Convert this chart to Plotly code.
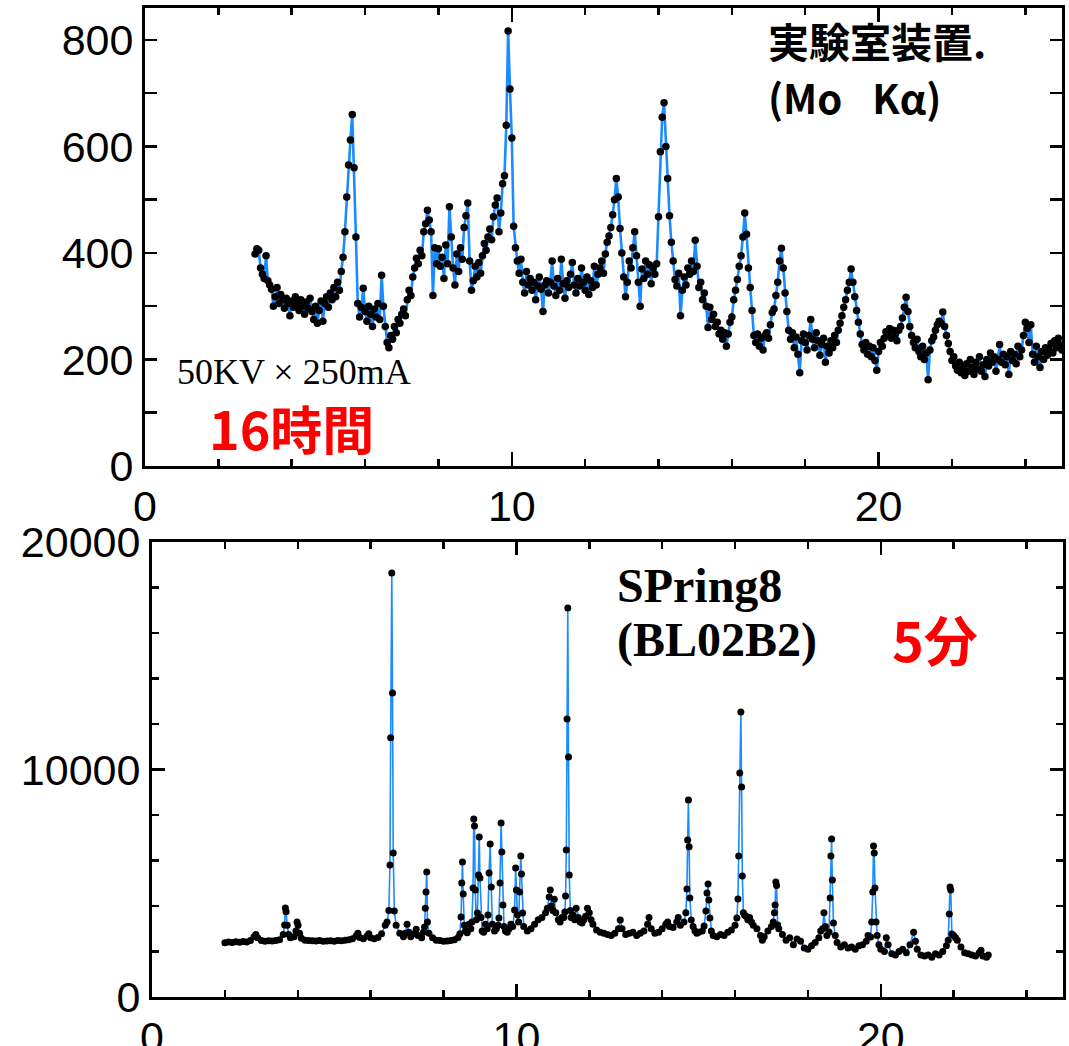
import plotly.graph_objects as go

# ---------------- Top panel (laboratory instrument, Mo Ka) ----------------
TOP_X_START = 3.0
TOP_X_STEP = 0.05
top_rows = [
    [398, 408, 405, 372, 360, 352, 395, 348, 340, 332, 300, 318, 335, 305, 322, 312, 296, 315, 305, 282],  # 3.00-3.95
    [310, 298, 318, 305, 292, 312, 300, 285, 308, 296, 315, 290, 275, 300, 268, 292, 310, 272, 305, 318],  # 4
    [298, 325, 312, 335, 318, 345, 330, 365, 392, 440, 505, 565, 612, 660, 560, 430, 305, 280, 298, 334],  # 5
    [290, 272, 300, 285, 262, 295, 280, 305, 275, 358, 300, 262, 232, 222, 245, 238, 262, 250, 275, 268],  # 6
    [285, 295, 282, 312, 330, 320, 355, 372, 390, 380, 405, 395, 440, 455, 480, 462, 440, 320, 410, 380],  # 7
    [408, 375, 392, 352, 415, 380, 487, 430, 372, 340, 398, 365, 410, 388, 448, 470, 494, 385, 330, 348],  # 8
    [375, 355, 382, 362, 395, 418, 405, 430, 445, 425, 468, 490, 503, 440, 475, 530, 545, 640, 817, 708],  # 9
    [616, 450, 410, 385, 362, 388, 345, 325, 365, 340, 352, 330, 345, 312, 338, 355, 332, 290, 340, 348],  # 10
    [325, 345, 385, 338, 320, 352, 330, 388, 342, 315, 348, 335, 360, 382, 340, 325, 352, 338, 372, 345],  # 11
    [330, 355, 322, 348, 335, 375, 340, 360, 372, 385, 362, 398, 420, 432, 448, 472, 500, 540, 505, 446],  # 12
    [400, 355, 318, 345, 385, 372, 410, 440, 395, 345, 300, 370, 352, 385, 360, 378, 342, 372, 360, 380],  # 13
    [468, 590, 655, 682, 600, 540, 470, 420, 385, 350, 338, 362, 282, 330, 355, 340, 372, 360, 385, 365],  # 14
    [424, 375, 335, 345, 312, 325, 300, 260, 298, 275, 285, 262, 270, 248, 255, 238, 250, 225, 248, 270],  # 15
    [280, 312, 330, 350, 375, 395, 430, 475, 435, 372, 335, 292, 245, 232, 248, 225, 240, 218, 245, 250],  # 16
    [240, 265, 288, 295, 320, 345, 385, 409, 372, 325, 290, 255, 238, 250, 222, 242, 210, 175, 235, 248],  # 17
    [232, 218, 245, 275, 238, 222, 250, 235, 208, 228, 240, 195, 225, 212, 235, 222, 245, 232, 255, 268],  # 18
    [282, 298, 312, 330, 345, 370, 345, 318, 292, 270, 248, 228, 218, 232, 210, 225, 205, 222, 198, 180],  # 19
    [215, 232, 225, 240, 252, 245, 258, 240, 255, 248, 235, 255, 262, 278, 298, 317, 290, 262, 245, 232],  # 20
    [222, 238, 215, 205, 225, 200, 212, 162, 218, 235, 242, 255, 265, 272, 268, 289, 262, 245, 230, 215],  # 21
    [198, 205, 188, 180, 195, 175, 185, 170, 192, 178, 200, 185, 172, 195, 182, 205, 178, 190, 168, 200],  # 22
    [188, 212, 195, 205, 178, 200, 228, 195, 210, 190, 205, 172, 215, 198, 210, 192, 225, 205, 218, 245],  # 23
    [270, 258, 232, 265, 210, 195, 225, 205, 185, 215, 200, 222, 208, 218, 230, 212, 235, 222, 240, 228, 218],  # 24-25
]
top_y = [v for row in top_rows for v in row]
top_x = [round(TOP_X_START + i * TOP_X_STEP, 3) for i in range(len(top_y))]

# ---------------- Bottom panel (SPring8 BL02B2) ----------------
bot_x = [
    2.0, 2.1, 2.2, 2.3, 2.4, 2.5, 2.6, 2.7, 2.8, 2.85, 2.9, 3.0, 3.1, 3.2, 3.3, 3.4, 3.5, 3.6,
    3.64, 3.66, 3.68, 3.71, 3.75, 3.8, 3.9, 3.95, 3.98, 4.01, 4.05, 4.1, 4.2, 4.3, 4.4, 4.5,
    4.6, 4.7, 4.8, 4.9, 5.0, 5.1, 5.2, 5.3, 5.4, 5.5, 5.6, 5.65, 5.7, 5.8, 5.9, 5.95, 6.0,
    6.1, 6.2, 6.3, 6.4, 6.45, 6.5, 6.53, 6.55, 6.58, 6.6, 6.62, 6.65, 6.7, 6.8, 6.9, 6.95,
    7.0, 7.05, 7.1, 7.2, 7.25, 7.3, 7.4, 7.45, 7.48, 7.5, 7.52, 7.54, 7.56, 7.6, 7.7, 7.8,
    7.9, 8.0, 8.1, 8.2, 8.3, 8.4, 8.45, 8.48, 8.5, 8.52, 8.54, 8.57, 8.6, 8.65, 8.7, 8.75,
    8.78, 8.81, 8.83, 8.85, 8.87, 8.9, 8.93, 8.96, 8.98, 9.0, 9.03, 9.06, 9.1, 9.15, 9.2,
    9.22, 9.25, 9.28, 9.31, 9.34, 9.4, 9.45, 9.5, 9.52, 9.55, 9.58, 9.6, 9.63, 9.66, 9.7,
    9.75, 9.8, 9.85, 9.9, 9.95, 9.98, 10.0, 10.03, 10.06, 10.09, 10.12, 10.14, 10.17, 10.2,
    10.3, 10.4, 10.5, 10.6, 10.7, 10.8, 10.85, 10.9, 10.93, 10.96, 11.0, 11.04, 11.08, 11.15,
    11.2, 11.25, 11.3, 11.33, 11.35, 11.37, 11.39, 11.41, 11.43, 11.45, 11.48, 11.5, 11.55,
    11.6, 11.64, 11.7, 11.75, 11.8, 11.85, 11.9, 11.95, 12.0, 12.05, 12.1, 12.2, 12.3, 12.4,
    12.5, 12.6, 12.7, 12.8, 12.85, 12.9, 13.0, 13.1, 13.2, 13.3, 13.4, 13.5, 13.6, 13.64,
    13.7, 13.8, 13.9, 14.0, 14.1, 14.15, 14.2, 14.3, 14.4, 14.44, 14.5, 14.6, 14.65, 14.68,
    14.7, 14.72, 14.74, 14.76, 14.8, 14.85, 14.9, 14.95, 15.0, 15.1, 15.15, 15.2, 15.23,
    15.26, 15.28, 15.31, 15.35, 15.4, 15.5, 15.6, 15.7, 15.8, 15.9, 16.0, 16.05, 16.08, 16.1,
    16.13, 16.16, 16.18, 16.2, 16.23, 16.26, 16.3, 16.35, 16.4, 16.45, 16.5, 16.6, 16.7,
    16.75, 16.8, 16.9, 17.0, 17.05, 17.08, 17.1, 17.12, 17.14, 17.17, 17.2, 17.3, 17.4, 17.5,
    17.6, 17.7, 17.8, 17.9, 18.0, 18.1, 18.2, 18.3, 18.35, 18.4, 18.44, 18.48, 18.52, 18.58,
    18.61, 18.63, 18.65, 18.67, 18.7, 18.75, 18.8, 18.9, 19.0, 19.1, 19.2, 19.3, 19.4, 19.5,
    19.6, 19.65, 19.72, 19.75, 19.78, 19.8, 19.82, 19.84, 19.87, 19.9, 19.95, 20.0, 20.1,
    20.15, 20.2, 20.3, 20.4, 20.5, 20.6, 20.7, 20.8, 20.9, 20.95, 21.0, 21.1, 21.2, 21.3,
    21.4, 21.5, 21.6, 21.7, 21.8, 21.85, 21.88, 21.9, 21.92, 21.95, 22.0, 22.05, 22.1, 22.2,
    22.3, 22.4, 22.5, 22.6, 22.7, 22.75, 22.8, 22.9, 22.95,
]
bot_y = [
    2380, 2420, 2400, 2430, 2410, 2440, 2420, 2480, 2650, 2750, 2600, 2480, 2450, 2470, 2460, 2480, 2520, 2750,
    3160, 3910, 3750, 3150, 2750, 2600, 2650, 2900, 3300, 3150, 2800, 2580, 2500, 2480, 2470, 2460,
    2480, 2450, 2460, 2470, 2450, 2480, 2470, 2500, 2520, 2560, 2680, 2800, 2620, 2560, 2680, 2780, 2600,
    2560, 2620, 2780, 3150, 3300, 3800, 5800, 11400, 18640, 13360, 6330, 3780, 3150, 2800, 2650, 2800,
    3200, 2850, 2650, 2780, 2980, 2700, 2600, 2850, 3080, 3900, 4620, 5500, 3300, 2800, 2600, 2500,
    2480, 2450, 2460, 2480, 2520, 2620, 2780, 3520, 5010, 5930, 4530, 3150, 2900, 2820, 3200, 3000,
    3300, 4790, 7820, 7520, 4700, 3400, 3690, 5360, 7030, 5230, 3500, 2900, 2850, 3200, 3000,
    3600, 5450, 6720, 4840, 3200, 2900, 3000, 3150, 3470, 5010, 7650, 6370, 4040, 3100, 2900,
    2850, 3000, 3200, 3100, 3820, 5670, 4700, 3600, 3300, 4620, 6200, 5410, 3690, 3100,
    2900, 3000, 3200, 3400, 3500, 3700, 3900, 4400, 4700, 4000, 3800, 4300, 3700, 3400,
    3300, 3500, 3500, 3740, 4440, 6460, 12220, 17100, 10550, 5360, 3800, 3500, 3600,
    3400, 3900, 3500, 3300, 3250, 3400, 3550, 3900, 3700, 3400, 3200, 2950, 2850, 2800,
    2750, 2700, 2800, 3000, 3380, 3000, 2750, 2800, 2850, 2700, 2800, 2900, 3200, 3500,
    3000, 2800, 2850, 3000, 3200, 3300, 3100, 3050, 3300, 3500, 3150, 3300, 3700, 4750,
    6900, 8660, 6600, 4350, 3380, 3100, 2900, 2800, 2850, 2900, 3120, 3780, 4570,
    4970, 4260, 3470, 2900, 2700, 2650, 2750, 2700, 2850, 2950, 3150, 3470, 4310, 6200,
    9850, 12530, 9230, 5320, 3700, 3600, 3550, 3400, 3500, 3300, 3150, 3000, 2700,
    2500, 2650, 2900, 3100, 3300, 3700, 4040, 5050, 4900, 3160, 3000, 2750, 2500, 2600,
    2300, 2550, 2450, 2150, 2100, 2250, 2400, 2600, 2900, 3000, 3700, 3100, 2700, 2860,
    4350, 6200, 6950, 5140, 3250, 2700, 2400, 2200, 2300, 2150, 2200, 2100, 2250, 2300,
    2450, 2700, 2640, 3300, 4620, 6640, 6330, 4790, 3300, 2700, 2300, 2100, 2000,
    2600, 2300, 1900, 1850, 2000, 2100, 1950, 2300, 2850, 2450, 2100, 1850, 1800, 1850,
    1750, 1900, 1850, 2000, 2250, 2500, 3650, 4840, 4700, 2770, 2700, 2600, 2500, 2200,
    1950, 1900, 1850, 1800, 1950, 2050, 1800, 1750, 1850,
]

# ---------------- Axis ticks ----------------
top_x_ticks = [0, 10, 20]
top_y_ticks = [0, 200, 400, 600, 800]
bot_x_ticks = [0, 10, 20]
bot_y_ticks = [0, 10000, 20000]
bot_y_labels = ["0", "10000", "20000"]

LINE_BLUE = "#1a8cff"
W, H = 1069, 1046


def px_x(p):
    return p / W


def px_y(p):
    return 1 - p / H


fig = go.Figure()
fig.add_trace(go.Scatter(
    x=top_x, y=top_y, mode="lines+markers", xaxis="x", yaxis="y",
    line=dict(color=LINE_BLUE, width=2.6),
    marker=dict(color="black", size=7.5),
    showlegend=False, hoverinfo="skip",
))
fig.add_trace(go.Scatter(
    x=bot_x, y=bot_y, mode="lines+markers", xaxis="x2", yaxis="y2",
    line=dict(color=LINE_BLUE, width=1.6),
    marker=dict(color="black", size=7),
    showlegend=False, hoverinfo="skip",
))

tick_font = dict(family="Liberation Sans, Arial, sans-serif", size=43, color="black")
axis_common = dict(
    showline=True, linecolor="black", linewidth=3, mirror="ticks",
    ticks="inside", tickcolor="black", tickwidth=2.5,
    showgrid=False, zeroline=False, tickfont=tick_font, automargin=False,
    fixedrange=True,
)

fig.update_layout(
    width=W, height=H,
    margin=dict(l=0, r=0, t=0, b=0),
    paper_bgcolor="white", plot_bgcolor="white",
    xaxis=dict(domain=[px_x(145), px_x(1062)], range=[0, 25], anchor="y",
               tickvals=top_x_ticks, ticklen=14,
               minor=dict(dtick=2, ticklen=7, ticks="inside", tickcolor="black", tickwidth=2.5, showgrid=False),
               **axis_common),
    yaxis=dict(domain=[px_y(466), px_y(8)], range=[0, 860], anchor="x",
               tickvals=top_y_ticks, ticklen=12,
               minor=dict(dtick=100, ticklen=12, ticks="inside", tickcolor="black", tickwidth=2.5, showgrid=False),
               **axis_common),
    xaxis2=dict(domain=[px_x(152), px_x(1063)], range=[0, 25], anchor="y2",
                tickvals=bot_x_ticks, ticklen=13,
                minor=dict(dtick=2, ticklen=7, ticks="inside", tickcolor="black", tickwidth=2.5, showgrid=False),
                **axis_common),
    yaxis2=dict(domain=[px_y(997), px_y(542)], range=[0, 20000], anchor="x2",
                tickvals=bot_y_ticks, ticktext=bot_y_labels, ticklen=13,
                minor=dict(dtick=2000, ticklen=7, ticks="inside", tickcolor="black", tickwidth=2.5, showgrid=False),
                **axis_common),
)

jp = "Noto Sans CJK JP, sans-serif"
serif = "Liberation Serif, Times New Roman, serif"
annots = [
    ("実験室装置.", 766, 40, jp, 41, "black", "bold"),
    ("(Mo\u2002\u2005Kα)", 766, 97, jp, 40, "black", "bold"),
    ("50KV × 250mA", 175, 372, serif, 36, "black", "normal"),
    ("16時間", 207, 428, jp, 52, "red", "bold"),
    ("SPring8", 615, 585, serif, 48, "black", "bold"),
    ("(BL02B2)", 615, 640, serif, 48, "black", "bold"),
    ("5分", 890, 638, jp, 54, "red", "bold"),
]
for text, ax_px, ay_px, fam, size, col, weight in annots:
    fig.add_annotation(
        text=text, x=px_x(ax_px), y=px_y(ay_px), xref="paper", yref="paper",
        xanchor="left", yanchor="middle", showarrow=False,
        font=dict(family=fam, size=size, color=col, weight=weight),
    )

fig.write_html(
    "out.html",
    config={"displayModeBar": False, "staticPlot": True},
    post_script="document.body.style.margin='0';document.body.style.overflow='hidden';",
)
